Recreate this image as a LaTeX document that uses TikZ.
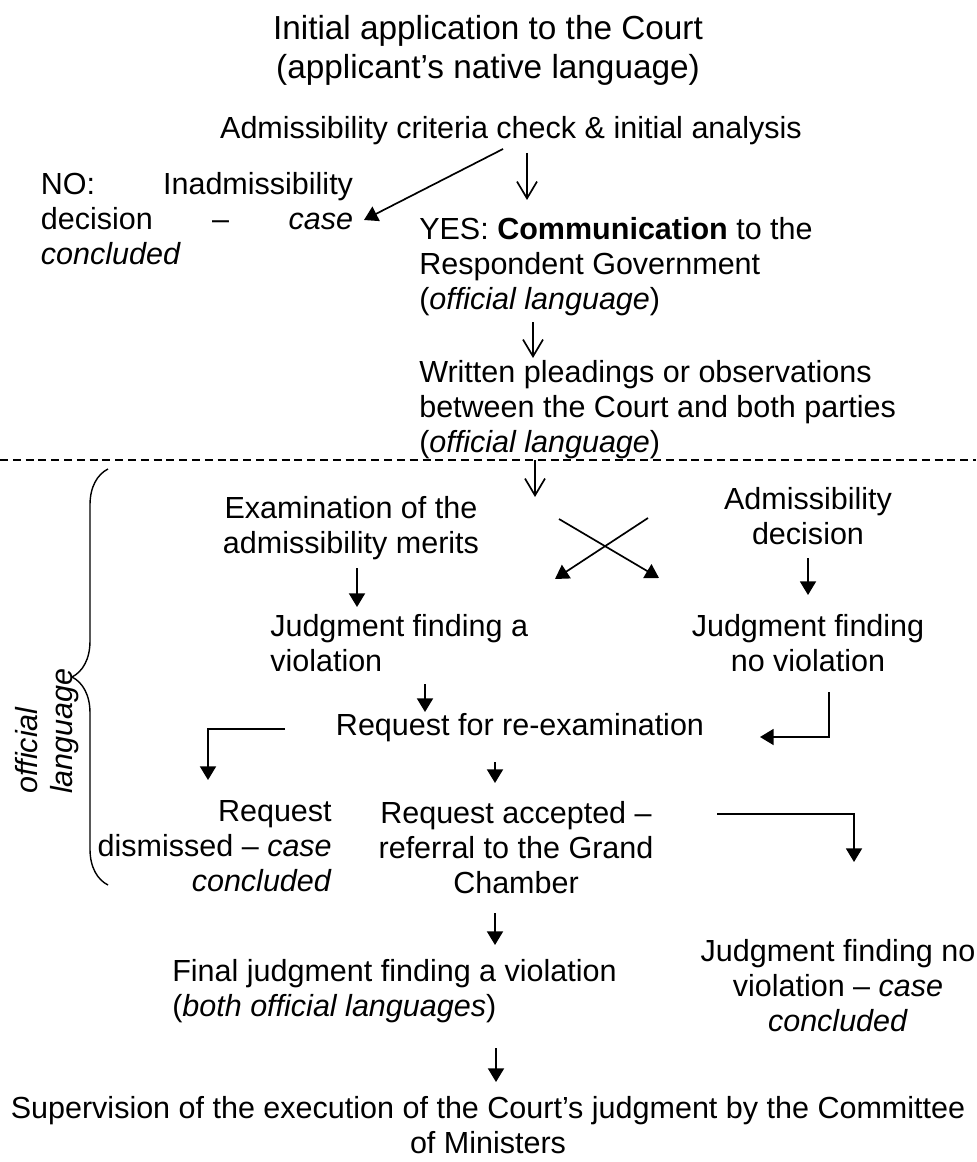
\documentclass[tikz,border=0pt]{standalone}
\usepackage{fontspec}
\setmainfont{Liberation Sans}
\usetikzlibrary{arrows.meta,decorations.pathreplacing}

\tikzset{
  txt/.style={inner sep=0pt, font=\fontsize{21.7}{24.9}\selectfont},
  headtxt/.style={inner sep=0pt, font=\fontsize{23.7}{27.7}\selectfont, align=center},
  openarr/.style={line width=1.2pt, -{Straight Barb[length=0.42cm,width=0.5cm]}},
  fillarr/.style={line width=1.2pt, -{Triangle[length=0.34cm,width=0.4cm]}},
}

\begin{document}
\begin{tikzpicture}[x=0.025cm, y=-0.025cm]
 	\useasboundingbox (0,0) rectangle (976,1162);
 	% Nodes
 	\node[headtxt] (start) at (488,50) {Initial application to the Court\\(applicant’s native language)};
 	\node[txt] (check) at (511,131) {Admissibility criteria check \& initial analysis};
 	\node[txt, text width=7.8cm, align=left] (no_dec) at (197,219) {NO:\hfill Inadmissibility\\decision\hfill –\hfill \textit{case}\\\textit{concluded}};
 	\node[txt, align=left, anchor=west] (yes_comm) at (419,267) {YES: \textbf{Communication} to the\\Respondent Government\\(\textit{official language})};
 	\node[txt, align=left, anchor=west] (pleadings) at (419,410) {Written pleadings or observations\\between the Court and both parties\\(\textit{official language})};
 	\node[txt, align=center] (exam) at (351,528) {Examination of the\\admissibility merits};
 	\node[txt, align=center] (adm_dec) at (808,516) {Admissibility\\decision};
 	\node[txt, align=left, anchor=west] (j_viol) at (270,643) {Judgment finding a\\violation};
 	\node[txt, align=center] (j_noviol) at (808,643) {Judgment finding\\no violation};
 	\node[txt] (reexam) at (520,728) {Request for re-examination};
 	\node[txt, align=right, anchor=east] (dismissed) at (332,846) {Request\\dismissed – \textit{case}\\\textit{concluded}};
 	\node[txt, align=center] (accepted) at (516,848) {Request accepted –\\referral to the Grand\\Chamber};
 	\node[txt, align=center] (gc_noviol) at (838,986) {Judgment finding no\\violation – \textit{case}\\\textit{concluded}};
 	\node[txt, align=left, anchor=west] (final) at (172,991) {Final judgment finding a violation\\(\textit{both official languages})};
 	\node[txt, align=center] (supervision) at (488,1125) {Supervision of the execution of the Court’s judgment by the Committee\\of Ministers};
 	\node[txt, align=left, rotate=90, font=\fontsize{21.7}{24.9}\selectfont\itshape] (lang) at (47,731) {official\\language};
 	% Arrow ends
 	\coordinate (check_l) at (503,149);   \coordinate (no_r) at (364,220);
 	\coordinate (check_b) at (527,153);   \coordinate (yes_t) at (527,200);
 	\coordinate (yes_b) at (533,322);     \coordinate (plead_t) at (533,358);
 	\coordinate (plead_b) at (535,460);   \coordinate (split) at (535,497);
 	\coordinate (x1_a) at (559,519);      \coordinate (x1_b) at (659,578);
 	\coordinate (x2_a) at (648,518);      \coordinate (x2_b) at (555,579);
 	\coordinate (exam_b) at (357,568);    \coordinate (jv_t) at (357,607);
 	\coordinate (adm_b) at (808,558);     \coordinate (jnv_t) at (808,595);
 	\coordinate (jv_b) at (425,684);      \coordinate (re_t) at (425,712);
 	\coordinate (jnv_b) at (829,692);     \coordinate (re_r) at (760,737);
 	\coordinate (re_l) at (285,729);      \coordinate (dis_t) at (208,780);
 	\coordinate (re_b) at (495,762);      \coordinate (acc_t) at (495,783);
 	\coordinate (acc_r) at (717,814);     \coordinate (gcn_t) at (854,862);
 	\coordinate (acc_b) at (495,913);     \coordinate (fin_t) at (495,945);
 	\coordinate (fin_b) at (496,1048);    \coordinate (sup_t) at (496,1082);
 	% Edges
 	\draw[fillarr] (check_l) -- (no_r);
 	\draw[openarr] (check_b) -- (yes_t);
 	\draw[openarr] (yes_b) -- (plead_t);
 	\draw[openarr] (plead_b) -- (split);
 	\draw[fillarr] (x1_a) -- (x1_b);
 	\draw[fillarr] (x2_a) -- (x2_b);
 	\draw[fillarr] (exam_b) -- (jv_t);
 	\draw[fillarr] (adm_b) -- (jnv_t);
 	\draw[fillarr] (jv_b) -- (re_t);
 	\draw[fillarr] (jnv_b) |- (re_r);
 	\draw[fillarr] (re_l) -| (dis_t);
 	\draw[fillarr] (re_b) -- (acc_t);
 	\draw[fillarr] (acc_r) -| (gcn_t);
 	\draw[fillarr] (acc_b) -- (fin_t);
 	\draw[fillarr] (fin_b) -- (sup_t);
 	% Separator and brace
 	\draw[line width=1pt, dash pattern=on 0.2cm off 0.12cm] (0,460) -- (976,460);
 	\draw[line width=1pt, decorate, decoration={brace, amplitude=0.9cm}] (108,885) -- (108,469);
\end{tikzpicture}
\end{document}
